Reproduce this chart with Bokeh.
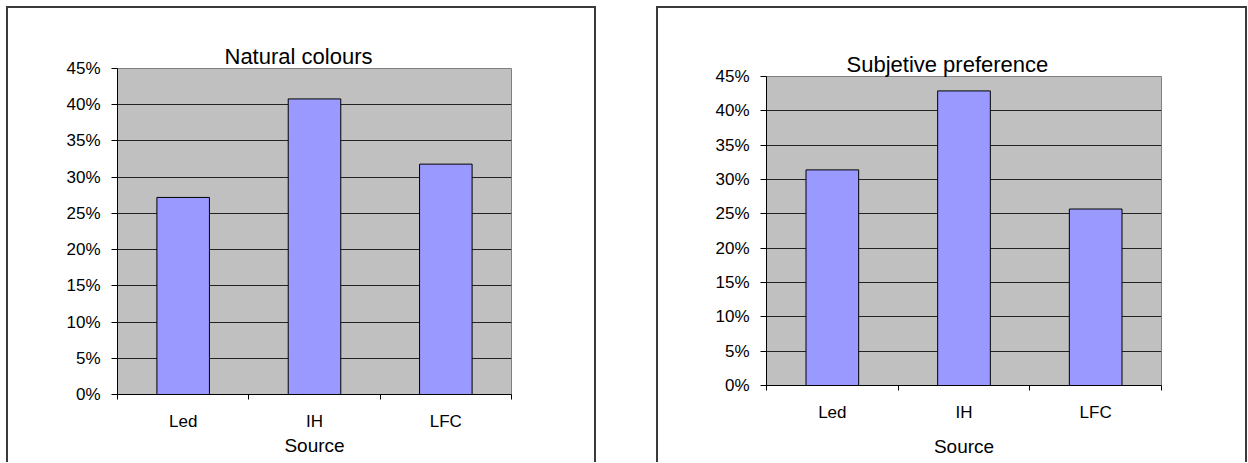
from bokeh.plotting import figure
from bokeh.layouts import row, column
from bokeh.models import Range1d, FixedTicker, NumeralTickFormatter, Title
from bokeh.embed import file_html
from bokeh.resources import INLINE

# ---- data ----
categories = ["Led", "IH", "LFC"]
natural_colours = [0.272, 0.408, 0.318]
subjective_preference = [0.314, 0.429, 0.257]
y_ticks = [0.0, 0.05, 0.10, 0.15, 0.20, 0.25, 0.30, 0.35, 0.40, 0.45]
x_label = "Source"
titles = ["Natural colours", "Subjetive preference"]

FONT = "Liberation Sans"


def make_chart(title, values, width, height, mb_left, mb_right, mb_top, mb_bottom,
               title_gap, title_offset, label_standoff):
    n = len(categories)
    centers = [i + 0.5 for i in range(n)]
    bounds = [float(i) for i in range(n + 1)]
    p = figure(width=width, height=height, output_backend="svg", toolbar_location=None,
               title=None,
               x_range=Range1d(0, n), y_range=Range1d(y_ticks[0], y_ticks[-1]),
               min_border_left=mb_left, min_border_right=mb_right,
               min_border_top=mb_top, min_border_bottom=mb_bottom,
               background_fill_color="#C0C0C0", border_fill_color=None,
               outline_line_color="#808080", outline_line_width=1,
               styles={"box-shadow": "inset 2px 2px 0 0 #3a3a3a, inset -2px 0 0 0 #3a3a3a",
                       "background-color": "white"})

    # the title, then an invisible spacer panel between it and the plot area
    p.add_layout(Title(text=title, text_font=FONT, text_font_size="22px",
                       text_font_style="normal", text_color="black",
                       align="left", offset=title_offset, standoff=0), "above")
    p.add_layout(Title(text="_", text_alpha=0, text_font=FONT, text_font_size="10px",
                       standoff=title_gap), "above")

    p.vbar(x=centers, top=values, width=0.4, fill_color="#9999FF",
           line_color="black", line_width=1)

    # x axis: labels at centres, ticks at category boundaries
    xa = p.xaxis[0]
    xa.ticker = FixedTicker(ticks=centers, minor_ticks=bounds)
    xa.major_label_overrides = {c: lab for c, lab in zip(centers, categories)}
    xa.major_tick_line_color = None
    xa.major_tick_out = 0
    xa.major_tick_in = 0
    xa.minor_tick_line_color = "black"
    xa.minor_tick_out = 5
    xa.minor_tick_in = 0
    xa.axis_line_color = "black"
    xa.major_label_text_font = FONT
    xa.major_label_text_font_size = "17px"
    xa.major_label_text_color = "black"
    xa.major_label_standoff = 12
    xa.axis_label = x_label
    xa.axis_label_text_font = FONT
    xa.axis_label_text_font_size = "19px"
    xa.axis_label_text_font_style = "normal"
    xa.axis_label_text_color = "black"
    xa.axis_label_standoff = label_standoff

    ya = p.yaxis[0]
    ya.ticker = FixedTicker(ticks=y_ticks)
    ya.formatter = NumeralTickFormatter(format="0%")
    ya.major_tick_out = 6
    ya.major_tick_in = 0
    ya.minor_tick_line_color = None
    ya.axis_line_color = "black"
    ya.major_tick_line_color = "black"
    ya.major_label_text_font = FONT
    ya.major_label_text_font_size = "17px"
    ya.major_label_text_color = "black"
    ya.major_label_standoff = 11

    p.xgrid.visible = False
    p.ygrid.ticker = FixedTicker(ticks=y_ticks[1:-1])
    p.ygrid.grid_line_color = "#222222"
    p.ygrid.grid_line_width = 1
    return p


p1 = make_chart(titles[0], natural_colours, 590, 456, 111, 85, 62, 68, 4, 107, 1)
p2 = make_chart(titles[1], subjective_preference, 591, 456, 110, 86, 70, 77, 13, 80, 11)

layout = row(column(p1), column(p2), spacing=60, margin=(6, 0, 0, 6))
open("out.html", "w").write(file_html(layout, INLINE))
